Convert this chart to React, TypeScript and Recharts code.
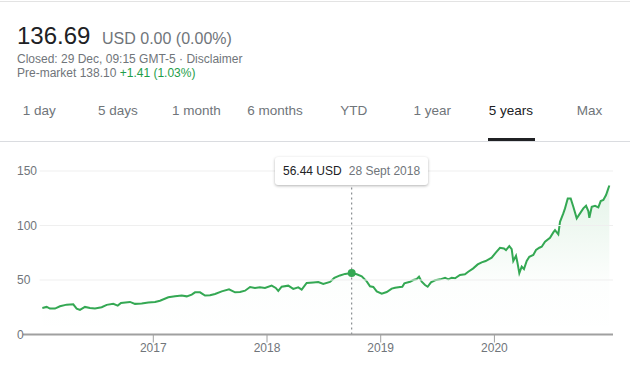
import React from "react";
import { AreaChart, Area, XAxis, YAxis, ReferenceLine, ReferenceDot } from "recharts";

// decimal year of each sample
const times = [
  2016.024, 2016.062, 2016.091, 2016.135, 2016.179, 2016.238, 2016.296, 2016.326, 2016.355, 2016.399,
  2016.443, 2016.487, 2016.546, 2016.59, 2016.648, 2016.687, 2016.716, 2016.795, 2016.839, 2016.898,
  2016.956, 2017.015, 2017.059, 2017.132, 2017.191, 2017.25, 2017.294, 2017.338, 2017.367, 2017.411,
  2017.455, 2017.499, 2017.543, 2017.602, 2017.666, 2017.719, 2017.763, 2017.807, 2017.851, 2017.894,
  2017.938, 2017.982, 2018.041, 2018.077, 2018.099, 2018.129, 2018.187, 2018.231, 2018.275, 2018.305,
  2018.349, 2018.407, 2018.451, 2018.495, 2018.554, 2018.592, 2018.642, 2018.686, 2018.745, 2018.789,
  2018.833, 2018.877, 2018.906, 2018.935, 2018.965, 2019.009, 2019.053, 2019.097, 2019.126, 2019.17,
  2019.19, 2019.208, 2019.258, 2019.287, 2019.317, 2019.337, 2019.361, 2019.39, 2019.413, 2019.442,
  2019.478, 2019.522, 2019.566, 2019.595, 2019.624, 2019.654, 2019.697, 2019.741, 2019.77, 2019.814,
  2019.853, 2019.888, 2019.923, 2019.976, 2020.014, 2020.049, 2020.084, 2020.102, 2020.131, 2020.152,
  2020.166, 2020.19, 2020.201, 2020.219, 2020.24, 2020.26, 2020.284, 2020.307, 2020.342, 2020.366,
  2020.395, 2020.416, 2020.445, 2020.489, 2020.518, 2020.533, 2020.562, 2020.577, 2020.606, 2020.621,
  2020.645, 2020.671, 2020.694, 2020.724, 2020.753, 2020.782, 2020.806, 2020.826, 2020.835, 2020.856,
  2020.885, 2020.914, 2020.935, 2020.958, 2020.982, 2021.002, 2021.011,
];

const prices = [
  24.4, 25.3, 23.8, 23.8, 25.9, 27.4, 27.7, 23.8, 22.6, 25.3,
  24.4, 23.8, 25.0, 27.2, 28.1, 26.5, 29.0, 29.9, 28.1, 28.4,
  29.3, 29.9, 31.0, 34.1, 35.0, 35.7, 35.0, 36.6, 38.7, 38.7,
  35.7, 36.0, 37.2, 39.6, 41.5, 38.7, 39.0, 40.2, 43.6, 42.7,
  43.3, 42.7, 44.8, 42.7, 40.0, 43.9, 44.8, 41.8, 43.3, 41.2,
  47.3, 47.8, 48.2, 46.4, 48.2, 51.9, 54.2, 55.6, 56.44, 55.3,
  53.3, 48.7, 44.2, 43.6, 39.6, 37.5, 39.0, 42.1, 42.9, 43.6,
  43.8, 46.9, 48.4, 50.0, 50.9, 53.0, 48.4, 45.4, 43.8, 47.9,
  49.7, 50.6, 52.1, 50.6, 52.1, 51.6, 54.6, 55.2, 57.6, 60.7,
  64.3, 66.2, 67.4, 70.5, 75.4, 79.6, 79.0, 77.5, 81.1, 78.4,
  67.4, 72.2, 66.8, 56.2, 62.3, 60.1, 67.4, 71.3, 72.9, 77.5,
  79.6, 80.5, 85.1, 88.8, 93.7, 95.8, 91.9, 103.4, 111.1, 115.7,
  124.8, 124.8, 117.2, 106.6, 111.1, 115.7, 118.1, 113.2, 107.1, 117.2,
  118.1, 116.7, 122.4, 123.4, 128.0, 134.1, 136.69,
];

const yTicks = [0, 50, 100, 150];
const gridValues = [50, 100, 150];
const xTicks = [2017, 2018, 2019, 2020];
const xDomain = [2015.854, 2021.043];
const gridStart = 2016.0;

const tabs = ["1 day", "5 days", "1 month", "6 months", "YTD", "1 year", "5 years", "Max"];
const activeTab = "5 years";

const hoverTime = 2018.745;
const hoverPrice = 56.44;
const hoverLabel = "56.44 USD";
const hoverDate = "28 Sept 2018";

const GREEN = "#34a853";
const GRAY = "#70757a";
const DARK = "#202124";
const FONT = 'Arial, "Liberation Sans", sans-serif';

const data = times.map((t, i) => ({ t, price: prices[i] }));

function YTick({ y, payload }: any) {
  return (
    <text x={17} y={y} dy={4} fill={GRAY} fontSize={12} fontFamily={FONT} textAnchor="start">
      {payload.value}
    </text>
  );
}

export default function App() {
  return (
    <div
      style={{
        position: "absolute",
        left: 0,
        top: 0,
        width: 630,
        height: 375,
        overflow: "hidden",
        background: "#fff",
        fontFamily: FONT,
      }}
    >
      {/* header */}
      <div style={{ position: "absolute", left: 0, top: 1, width: 630, height: 1, background: "#e3e3e3" }} />
      <div style={{ position: "absolute", left: 17, top: 23.7, fontSize: 24, lineHeight: "24px", color: DARK }}>
        136.69
      </div>
      <div style={{ position: "absolute", left: 102, top: 30.5, fontSize: 16, lineHeight: "16px", color: GRAY }}>
        USD 0.00 (0.00%)
      </div>
      <div style={{ position: "absolute", left: 17, top: 53.1, fontSize: 12, lineHeight: "12px", color: GRAY }}>
        Closed: 29 Dec, 09:15 GMT-5 · Disclaimer
      </div>
      <div style={{ position: "absolute", left: 17, top: 66.5, fontSize: 12, lineHeight: "12px", color: GRAY }}>
        Pre-market 138.10 <span style={{ color: "#1e9e4a" }}>+1.41 (1.03%)</span>
      </div>

      {/* range tabs */}
      <div style={{ position: "absolute", left: 0, top: 103.6, display: "flex" }}>
        {tabs.map((tab) => (
          <div
            key={tab}
            style={{
              width: 78.6,
              textAlign: "center",
              fontSize: 13.5,
              lineHeight: "13.5px",
              color: tab === activeTab ? DARK : GRAY,
            }}
          >
            {tab}
          </div>
        ))}
      </div>
      <div style={{ position: "absolute", left: 0, top: 141, width: 630, height: 1, background: "#dadce0" }} />
      <div style={{ position: "absolute", left: 488, top: 138, width: 47, height: 3, background: DARK }} />

      {/* chart */}
      <div style={{ position: "absolute", left: 0, top: 150 }}>
        <AreaChart
          width={630}
          height={225}
          data={data}
          margin={{ top: 21, right: 17, bottom: 10.5, left: 0 }}
          style={{ fontFamily: FONT }}
        >
          <defs>
            <linearGradient id="priceFill" x1="0" y1="0" x2="0" y2="1">
              <stop offset="0%" stopColor={GREEN} stopOpacity={0.22} />
              <stop offset="65%" stopColor={GREEN} stopOpacity={0.02} />
              <stop offset="100%" stopColor={GREEN} stopOpacity={0} />
            </linearGradient>
          </defs>
          <XAxis
            dataKey="t"
            type="number"
            domain={xDomain}
            ticks={xTicks}
            allowDataOverflow
            height={30}
            tickSize={8}
            tickMargin={1}
            axisLine={{ stroke: "#a0a0a0", strokeWidth: 2 }}
            tickLine={{ stroke: "#a0a0a0" }}
            tick={{ fill: GRAY, fontSize: 12 }}
          />
          <YAxis
            type="number"
            domain={[0, 150]}
            ticks={yTicks}
            width={23}
            axisLine={false}
            tickLine={false}
            tick={<YTick />}
          />
          {gridValues.map((v) => (
            <ReferenceLine
              key={v}
              segment={[
                { x: gridStart, y: v },
                { x: xDomain[1], y: v },
              ]}
              stroke="#efefef"
            />
          ))}
          <Area
            type="linear"
            dataKey="price"
            stroke={GREEN}
            strokeWidth={2}
            fill="url(#priceFill)"
            dot={false}
            activeDot={false}
            isAnimationActive={false}
          />
          <ReferenceLine x={hoverTime} stroke={GRAY} strokeDasharray="2 3" />
          <ReferenceDot x={hoverTime} y={hoverPrice} r={4} fill={GREEN} stroke="none" />
        </AreaChart>
      </div>

      {/* hover card */}
      <div
        style={{
          position: "absolute",
          left: 275,
          top: 157,
          width: 153,
          height: 28,
          boxSizing: "border-box",
          background: "#fff",
          borderRadius: 3,
          boxShadow: "0 1px 3px rgba(0,0,0,0.3)",
          display: "flex",
          alignItems: "center",
          paddingLeft: 8,
          fontSize: 12,
          whiteSpace: "nowrap",
        }}
      >
        <span style={{ color: DARK }}>{hoverLabel}</span>
        <span style={{ color: GRAY, marginLeft: 7 }}>{hoverDate}</span>
      </div>
    </div>
  );
}
